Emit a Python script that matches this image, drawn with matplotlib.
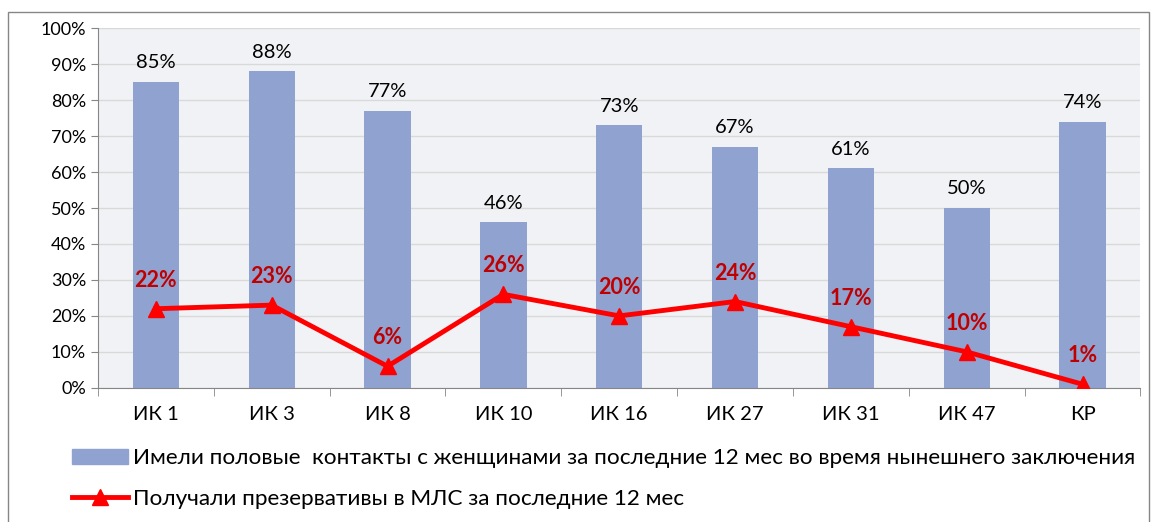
import matplotlib.pyplot as plt
from matplotlib.patches import Rectangle
from matplotlib.lines import Line2D

plt.rcParams['font.family'] = ['Lato', 'DejaVu Sans']

categories = ["ИК 1", "ИК 3", "ИК 8", "ИК 10", "ИК 16", "ИК 27", "ИК 31", "ИК 47", "КР"]
contacts = [85, 88, 77, 46, 73, 67, 61, 50, 74]
condoms = [22, 23, 6, 26, 20, 24, 17, 10, 1]
label_bar = "Имели половые  контакты с женщинами за последние 12 мес во время нынешнего заключения"
label_line = "Получали презервативы в МЛС за последние 12 мес"

bar_color = "#8FA2D0"
line_color = "#FF0000"

fig = plt.figure(figsize=(11.52, 5.22), dpi=100)
ax = fig.add_axes([0.085, 0.257, 0.905, 0.689])

x = range(len(categories))
ax.bar(x, contacts, width=0.4, color=bar_color, zorder=2)
ax.plot(x, condoms, color=line_color, lw=3.5, marker="^", ms=11, zorder=3)

for i, v in enumerate(contacts):
    ax.text(i, v + 3, f"{v}%", ha="center", va="bottom", fontsize=14.5, color="black")
for i, v in enumerate(condoms):
    ax.text(i, v + 5, f"{v}%", ha="center", va="bottom", fontsize=15.5,
            color="#C00000", fontweight="bold")

ax.set_xlim(-0.5, len(categories) - 0.5)
ax.set_ylim(0, 100)
ax.set_yticks(range(0, 101, 10))
ax.set_yticklabels([f"{t}%" for t in range(0, 101, 10)], fontsize=13)
ax.set_xticks(list(x))
ax.set_xticklabels(categories, fontsize=14.5)
ax.set_xticks([i + 0.5 for i in range(-1, len(categories))], minor=True)
ax.tick_params(axis="x", which="major", length=0, pad=13)
ax.tick_params(axis="x", which="minor", length=6, color="#868686")
ax.tick_params(axis="y", length=5, color="#868686")
ax.grid(axis="y", color="#D9D9D9", lw=1, zorder=1)
ax.set_facecolor("#F1F2F5")
for s in ["top", "right"]:
    ax.spines[s].set_visible(False)
ax.spines["left"].set_color("#868686")
ax.spines["bottom"].set_color("#868686")

handles = [Rectangle((0, 0), 1, 1, color=bar_color),
           Line2D([], [], color=line_color, lw=3.5, marker="^", ms=11)]
fig.legend(handles, [label_bar, label_line], loc="upper left",
           bbox_to_anchor=(0.045, 0.18), frameon=False, fontsize=16.2,
           handlelength=2.5, handletextpad=0.2, labelspacing=0.9)

fig.add_artist(Rectangle((0.007, -0.01), 0.99, 0.987, transform=fig.transFigure,
                         fill=False, edgecolor="#868686", lw=1))

fig.savefig("out.png", dpi=100)
